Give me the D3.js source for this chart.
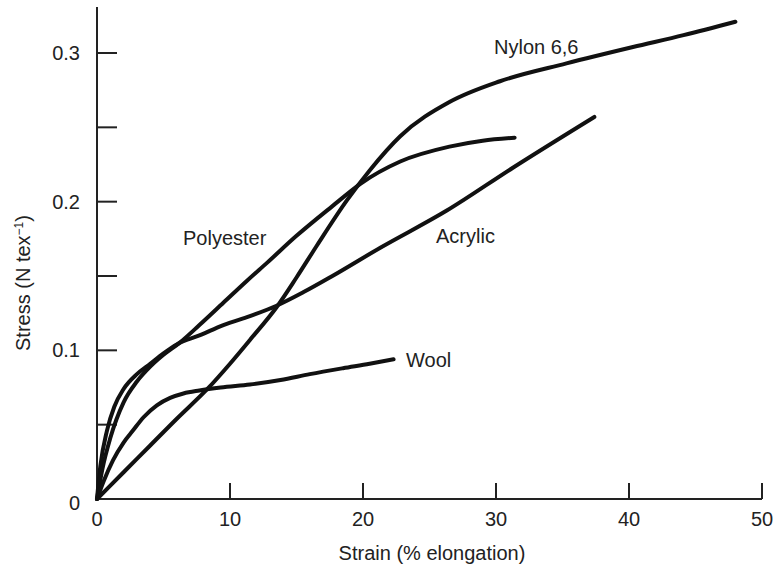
<!DOCTYPE html>
<html>
<head>
<meta charset="utf-8">
<script src="https://cdn.jsdelivr.net/npm/d3@7"></script>
<style>
  body { margin: 0; background: #fff; }
  svg text { font-family: "Liberation Sans", Arial, Helvetica, sans-serif; fill: #222; }
</style>
</head>
<body>
<svg id="chart" width="777" height="567"></svg>
<script>
// values: strain (% elongation) vs stress (N/tex)
const nylonStrain = [0, 2, 4, 6, 8.3, 10, 11.5, 13.5, 15, 16.5, 18.8, 20.5, 22.8, 26.5, 30.3, 35.3, 40.3, 44.1, 48];
const nylonStress = [0, 0.018, 0.036, 0.054, 0.074, 0.091, 0.107, 0.129, 0.149, 0.170, 0.201, 0.221, 0.244, 0.267, 0.281, 0.293, 0.304, 0.312, 0.321];

const polyStrain = [0, 0.4, 1, 2, 3, 4, 5, 6.2, 7.7, 9.5, 11.3, 12.8, 15, 17.7, 19.8, 22.8, 26.5, 29, 31.4];
const polyStress = [0, 0.02, 0.041, 0.065, 0.079, 0.089, 0.097, 0.105, 0.117, 0.132, 0.147, 0.159, 0.177, 0.197, 0.212, 0.227, 0.237, 0.241, 0.243];

const acrylStrain = [0, 0.25, 0.75, 1.3, 2, 3, 4, 5, 6, 7.7, 9.5, 11.5, 13.5, 15.5, 17.7, 21.3, 26.3, 31.3, 37.4];
const acrylStress = [0, 0.022, 0.046, 0.062, 0.074, 0.084, 0.091, 0.098, 0.104, 0.110, 0.117, 0.123, 0.130, 0.139, 0.150, 0.169, 0.194, 0.223, 0.257];

const woolStrain = [0, 0.5, 1.2, 2, 2.7, 3.5, 4.5, 5.5, 6.5, 7.7, 9.3, 11.5, 13.8, 16, 18.5, 20.5, 22.3];
const woolStress = [0, 0.012, 0.026, 0.038, 0.046, 0.055, 0.063, 0.068, 0.071, 0.073, 0.075, 0.077, 0.080, 0.084, 0.088, 0.091, 0.094];

const xTicks = [10, 20, 30, 40, 50];
const xLabels = [0, 10, 20, 30, 40, 50];
const yTicks = [0.05, 0.1, 0.15, 0.2, 0.25, 0.3];
const yLabels = [0, 0.1, 0.2, 0.3];

const curveLabels = [
  {name: "Nylon 6,6", x: 494, y: 54},
  {name: "Polyester", x: 183, y: 245},
  {name: "Acrylic", x: 436, y: 243},
  {name: "Wool", x: 406, y: 367}
];

const svg = d3.select("#chart");
const x = d3.scaleLinear().domain([0, 50]).range([97, 762]);
const y = d3.scaleLinear().domain([0, 0.3]).range([499, 53]);

const axisColor = "#222";
const fontSize = "20px";

// axes lines
svg.append("line").attr("x1", x(0)).attr("x2", x(0)).attr("y1", y(0)).attr("y2", 7)
  .attr("stroke", axisColor).attr("stroke-width", 2);
svg.append("line").attr("x1", x(0)).attr("x2", x(50)).attr("y1", y(0)).attr("y2", y(0))
  .attr("stroke", axisColor).attr("stroke-width", 2);

// inward ticks
svg.selectAll(".ytick").data(yTicks).enter().append("line").attr("class", "ytick")
  .attr("x1", x(0)).attr("x2", x(0) + 20).attr("y1", d => y(d)).attr("y2", d => y(d))
  .attr("stroke", axisColor).attr("stroke-width", 2);
svg.selectAll(".xtick").data(xTicks).enter().append("line").attr("class", "xtick")
  .attr("x1", d => x(d)).attr("x2", d => x(d)).attr("y1", y(0)).attr("y2", y(0) - 16)
  .attr("stroke", axisColor).attr("stroke-width", 2);

// tick labels
svg.selectAll(".ylab").data(yLabels).enter().append("text").attr("class", "ylab")
  .attr("x", 80).attr("y", d => y(d) + (d === 0 ? 11 : 7))
  .attr("text-anchor", "end").style("font-size", fontSize)
  .text(d => d === 0 ? "0" : d.toFixed(1));
svg.selectAll(".xlab").data(xLabels).enter().append("text").attr("class", "xlab")
  .attr("x", d => x(d)).attr("y", 526)
  .attr("text-anchor", "middle").style("font-size", fontSize)
  .text(d => d);

// axis titles
svg.append("text").attr("x", 432).attr("y", 560).attr("text-anchor", "middle")
  .style("font-size", fontSize).text("Strain (% elongation)");
let yt = svg.append("text").attr("transform", "translate(30,283) rotate(-90)")
  .attr("text-anchor", "middle").style("font-size", fontSize);
yt.append("tspan").text("Stress (N tex");
yt.append("tspan").attr("dy", -7).style("font-size", "12px").text("\u22121");
yt.append("tspan").attr("dy", 7).text(")");

// curves
const series = [
  [nylonStrain, nylonStress],
  [polyStrain, polyStress],
  [acrylStrain, acrylStress],
  [woolStrain, woolStress]
];
const line = d3.line().x(d => x(d[0])).y(d => y(d[1])).curve(d3.curveMonotoneX);
series.forEach(function(s){
  let pts = s[0].map((v, i) => [v, s[1][i]]);
  svg.append("path").attr("d", line(pts)).attr("fill", "none")
    .attr("stroke", "#111").attr("stroke-width", 4).attr("stroke-linecap", "round")
    .attr("stroke-linejoin", "round");
});

svg.selectAll(".clab").data(curveLabels).enter().append("text").attr("class", "clab")
  .attr("x", d => d.x).attr("y", d => d.y).style("font-size", fontSize)
  .text(d => d.name);
</script>
</body>
</html>
